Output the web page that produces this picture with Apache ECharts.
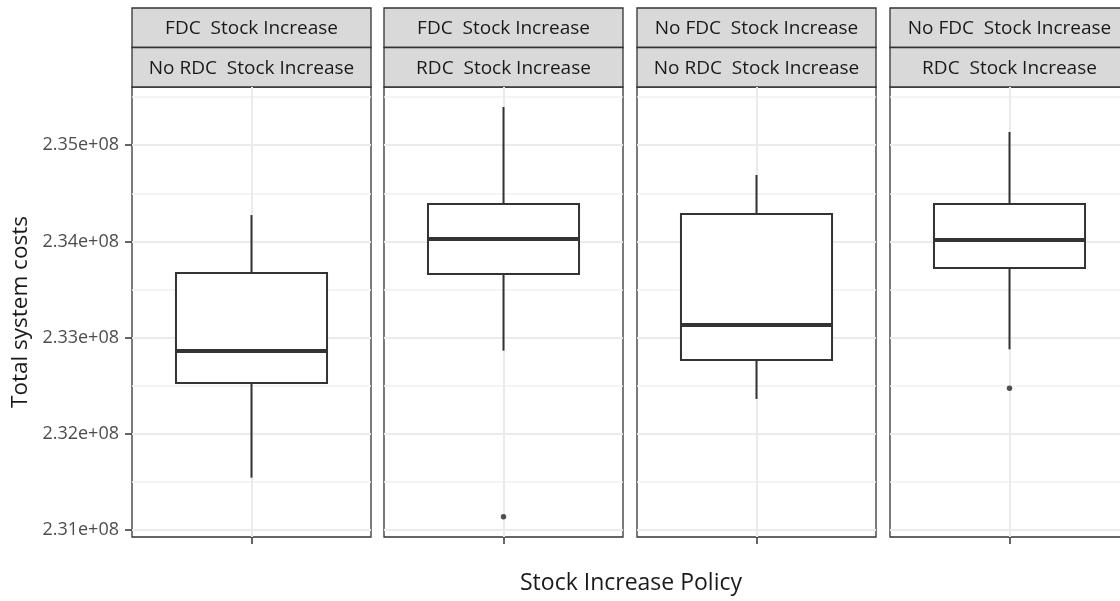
<!DOCTYPE html>
<html>
<head>
<meta charset="utf-8">
<script src="https://cdn.jsdelivr.net/npm/echarts@6/dist/echarts.min.js"></script>
<style>
  html, body { margin: 0; padding: 0; background: #fff; }
  #chart { width: 1120px; height: 601px; }
</style>
</head>
<body>
<div id="chart"></div>
<script>
// Facet strip labels (top row: FDC policy, second row: RDC policy)
const fdcLabels = ['FDC  Stock Increase', 'FDC  Stock Increase', 'No FDC  Stock Increase', 'No FDC  Stock Increase'];
const rdcLabels = ['No RDC  Stock Increase', 'RDC  Stock Increase', 'No RDC  Stock Increase', 'RDC  Stock Increase'];

// Box statistics for total system costs per policy combination
const whiskerLow  = [231544000, 232864000, 232362000, 232878000];
const q1          = [232528000, 233661000, 232767000, 233724000];
const median      = [232861000, 234025000, 233131000, 234015000];
const q3          = [233672000, 234389000, 234285000, 234389000];
const whiskerHigh = [234274000, 235397000, 234690000, 235137000];
const outliers    = [[], [231138000], [], [232473000]];

// Value axis range and tick positions
const yMin = 230927000;
const yMax = 235605000;
const yTicks = [231000000, 232000000, 233000000, 234000000, 235000000];
const yMinorTicks = [231500000, 232500000, 233500000, 234500000, 235500000];

const FONT = '"Open Sans", sans-serif';
const panelLeft = [132, 384, 637, 890];
const panelWidth = 239;
const panelTop = 87;
const panelHeight = 450;
const stripTop = 8;
const stripH = 39.5;

const grids = [], xAxes = [], yAxes = [], series = [], graphics = [];

panelLeft.forEach((left, i) => {
  grids.push({
    left: left, top: panelTop, width: panelWidth, height: panelHeight,
    outerBoundsMode: 'none', containLabel: false,
    show: true, backgroundColor: '#fff', borderColor: '#333', borderWidth: 1.3
  });
  const cat = fdcLabels[i] + ' / ' + rdcLabels[i];
  // category axis carrying the box
  xAxes.push({
    type: 'category', gridIndex: i, data: [cat], position: 'bottom',
    axisLine: { show: false, onZero: false }, axisTick: { show: false },
    axisLabel: { show: false }, splitLine: { show: false }
  });
  // helper axis for the centre grid line and the bottom tick
  xAxes.push({
    type: 'value', gridIndex: i, min: -1, max: 1, interval: 1, position: 'bottom',
    axisLine: { show: false, onZero: false },
    axisTick: { show: true, length: 7, customValues: [0], lineStyle: { color: '#333', width: 1.5 } },
    axisLabel: { show: false },
    splitLine: { show: true, lineStyle: { color: '#ebebeb', width: 2 } }
  });
  // major value axis
  yAxes.push({
    type: 'value', gridIndex: i, min: yMin, max: yMax, position: 'left',
    axisLine: { show: false, onZero: false },
    axisTick: { show: i === 0, length: 7, customValues: yTicks, lineStyle: { color: '#333', width: 1.5 } },
    axisLabel: {
      show: i === 0, customValues: yTicks, margin: 13,
      color: '#4d4d4d', fontFamily: FONT, fontSize: 18,
      formatter: v => (v / 1e8).toFixed(2) + 'e+08'
    },
    splitLine: { show: true, lineStyle: { color: '#ebebeb', width: 2 } }
  });
  // minor grid lines
  yAxes.push({
    type: 'value', gridIndex: i, min: yMin, max: yMax, position: 'left',
    axisLine: { show: false, onZero: false },
    axisTick: { show: false, customValues: yMinorTicks },
    axisLabel: { show: false, customValues: yMinorTicks },
    splitLine: { show: true, lineStyle: { color: '#f1f1f1', width: 1.5 } }
  });

  series.push({
    type: 'custom', xAxisIndex: 2 * i, yAxisIndex: 2 * i, z: 3,
    data: [[0, whiskerLow[i], q1[i], median[i], q3[i], whiskerHigh[i]]],
    encode: { x: 0, y: [1, 2, 3, 4, 5] },
    renderItem: function (params, api) {
      const x = api.value(0);
      const lo = api.coord([x, api.value(1)]);
      const b1 = api.coord([x, api.value(2)]);
      const md = api.coord([x, api.value(3)]);
      const b3 = api.coord([x, api.value(4)]);
      const hi = api.coord([x, api.value(5)]);
      const w = api.size([1, 0])[0] * 0.632;
      const cx = lo[0];
      const st = { stroke: '#333', lineWidth: 2, fill: null };
      return {
        type: 'group',
        children: [
          { type: 'line', shape: { x1: cx, y1: hi[1], x2: cx, y2: b3[1] }, style: st },
          { type: 'line', shape: { x1: cx, y1: b1[1], x2: cx, y2: lo[1] }, style: st },
          { type: 'rect', shape: { x: cx - w / 2, y: b3[1], width: w, height: b1[1] - b3[1] },
            style: { stroke: '#333', lineWidth: 2, fill: '#fff' } },
          { type: 'line', shape: { x1: cx - w / 2, y1: md[1], x2: cx + w / 2, y2: md[1] },
            style: { stroke: '#333', lineWidth: 4 } }
        ]
      };
    }
  });
  series.push({
    type: 'scatter', xAxisIndex: 2 * i, yAxisIndex: 2 * i, z: 4,
    symbol: 'circle', symbolSize: 5.5,
    itemStyle: { color: '#262626' },
    data: outliers[i].map(v => [0, v])
  });

  // facet strips
  [fdcLabels[i], rdcLabels[i]].forEach((label, r) => {
    graphics.push({
      type: 'rect',
      shape: { x: left, y: stripTop + r * stripH, width: panelWidth, height: stripH },
      style: { fill: '#d9d9d9', stroke: '#333', lineWidth: 1.3 }
    });
    graphics.push({
      type: 'text', x: left + panelWidth / 2, y: stripTop + r * stripH + stripH / 2 + 1,
      style: {
        text: label, fill: '#1a1a1a', font: '19px ' + FONT,
        textAlign: 'center', textVerticalAlign: 'middle'
      }
    });
  });
});

// axis titles
graphics.push({
  type: 'text', x: 631, y: 583,
  style: { text: 'Stock Increase Policy', fill: '#1a1a1a', font: '23px ' + FONT,
           textAlign: 'center', textVerticalAlign: 'middle' }
});
graphics.push({
  type: 'text', x: 21, y: 312, rotation: Math.PI / 2,
  style: { text: 'Total system costs', fill: '#1a1a1a', font: '22.5px ' + FONT,
           textAlign: 'center', textVerticalAlign: 'middle' }
});

const chart = echarts.init(document.getElementById('chart'), null, { renderer: 'canvas' });
chart.setOption({
  animation: false,
  backgroundColor: '#fff',
  grid: grids,
  xAxis: xAxes,
  yAxis: yAxes,
  series: series,
  graphic: graphics
});
</script>
</body>
</html>
